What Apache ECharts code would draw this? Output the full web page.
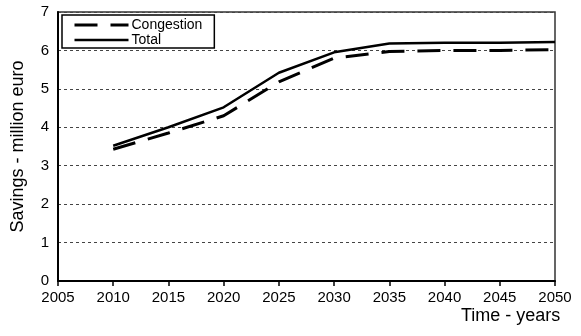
<!DOCTYPE html>
<html><head><meta charset="utf-8">
<script src="https://cdn.jsdelivr.net/npm/echarts@6/dist/echarts.min.js"></script>
<style>html,body{margin:0;padding:0;background:#fff}#c{width:581px;height:336px}</style>
</head><body><div id="c"></div>
<script>
const years = [2010, 2015, 2020, 2025, 2030, 2035, 2040, 2045, 2050];
const congestion = [3.43, 3.85, 4.3, 5.18, 5.8, 5.97, 6.0, 6.0, 6.02];
const total = [3.52, 4.0, 4.52, 5.42, 5.95, 6.18, 6.2, 6.2, 6.22];
const seriesNames = ['Congestion', 'Total'];

const chart = echarts.init(document.getElementById('c'), null, {renderer: 'canvas'});
const font = 'Liberation Sans, Arial, sans-serif';
const dash = [23, 13];
chart.setOption({
  animation: false,
  backgroundColor: '#fff',
  grid: {left: 58, right: 26, top: 12, bottom: 55, show: true, borderColor: '#333', borderWidth: 1.5,
         containLabel: false, outerBoundsMode: 'none'},
  legend: {
    show: true,
    orient: 'vertical',
    left: 62, top: 15,
    itemWidth: 54, itemHeight: 14, itemGap: 1,
    padding: [3, 12, 1, 11],
    borderColor: '#000', borderWidth: 1.5,
    backgroundColor: '#fff',
    itemStyle: {opacity: 0},
    textStyle: {fontFamily: font, fontSize: 14, color: '#000', padding: [0, 0, 0, -2]},
    data: [
      {name: seriesNames[0], itemStyle: {opacity: 0}, lineStyle: {color: '#000', width: 3, type: dash}},
      {name: seriesNames[1], itemStyle: {opacity: 0}, lineStyle: {color: '#000', width: 2.5, type: 'solid'}}
    ]
  },
  xAxis: {
    type: 'value', min: 2005, max: 2050, interval: 5,
    name: 'Time - years', nameLocation: 'end', nameGap: -94,
    nameTextStyle: {fontFamily: font, fontSize: 18, color: '#000', verticalAlign: 'top', padding: [26, 0, 0, 0]},
    axisLine: {show: true, lineStyle: {color: '#000', width: 2}},
    axisTick: {show: true, length: 5, lineStyle: {color: '#000', width: 1.5}},
    axisLabel: {fontFamily: font, fontSize: 15, color: '#000', margin: 9, formatter: v => String(v)},
    splitLine: {show: false}
  },
  yAxis: {
    type: 'value', min: 0, max: 7, interval: 1,
    name: 'Savings - million euro', nameLocation: 'middle', nameGap: 31,
    nameTextStyle: {fontFamily: font, fontSize: 18, color: '#000'},
    axisLine: {show: true, lineStyle: {color: '#000', width: 2}},
    axisTick: {show: false},
    axisLabel: {fontFamily: font, fontSize: 15, color: '#000', margin: 9},
    splitLine: {show: true, lineStyle: {color: '#444', width: 1, type: [3, 3]}}
  },
  series: [
    {name: 'Congestion', type: 'line', symbol: 'none', z: 3,
     data: years.map((y, i) => [y, congestion[i]]),
     lineStyle: {color: '#000', width: 3, type: dash}, itemStyle: {color: '#000'}},
    {name: 'Total', type: 'line', symbol: 'none', z: 4,
     data: years.map((y, i) => [y, total[i]]),
     lineStyle: {color: '#000', width: 2.5}, itemStyle: {color: '#000'}}
  ]
});
</script></body></html>
